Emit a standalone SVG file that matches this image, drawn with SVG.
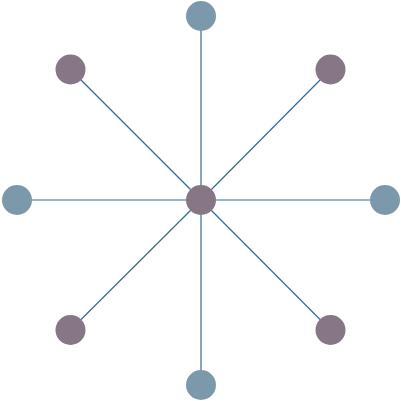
<svg xmlns="http://www.w3.org/2000/svg" width="401" height="401" viewBox="0 0 401 401">
<style>
.edge{stroke:#2f6b9c;stroke-width:1.2;fill:none}
.a{fill:#7c99ac}
.b{fill:#877786}
</style>
<rect width="401" height="401" fill="#ffffff"/>
<g id="connectors">
<line class="edge" x1="201" y1="200" x2="201" y2="16"/>
<line class="edge" x1="201" y1="200" x2="201" y2="385"/>
<line class="edge" x1="201" y1="200" x2="17" y2="200"/>
<line class="edge" x1="201" y1="200" x2="385" y2="200"/>
<line class="edge" x1="201" y1="200" x2="70.5" y2="69.5"/>
<line class="edge" x1="201" y1="200" x2="330.5" y2="69.5"/>
<line class="edge" x1="201" y1="200" x2="70.5" y2="330"/>
<line class="edge" x1="201" y1="200" x2="330.5" y2="330"/>
</g>
<g id="n-top"><circle class="a" cx="201" cy="16" r="15"/></g>
<g id="n-bottom"><circle class="a" cx="201" cy="385" r="15"/></g>
<g id="n-left"><circle class="a" cx="17" cy="200" r="15"/></g>
<g id="n-right"><circle class="a" cx="385" cy="200" r="15"/></g>
<g id="n-tl"><circle class="b" cx="70.5" cy="69.5" r="15"/></g>
<g id="n-tr"><circle class="b" cx="330.5" cy="69.5" r="15"/></g>
<g id="n-bl"><circle class="b" cx="70.5" cy="330" r="15"/></g>
<g id="n-br"><circle class="b" cx="330.5" cy="330" r="15"/></g>
<g id="n-center"><circle class="b" cx="201" cy="200" r="15"/></g>
</svg>
